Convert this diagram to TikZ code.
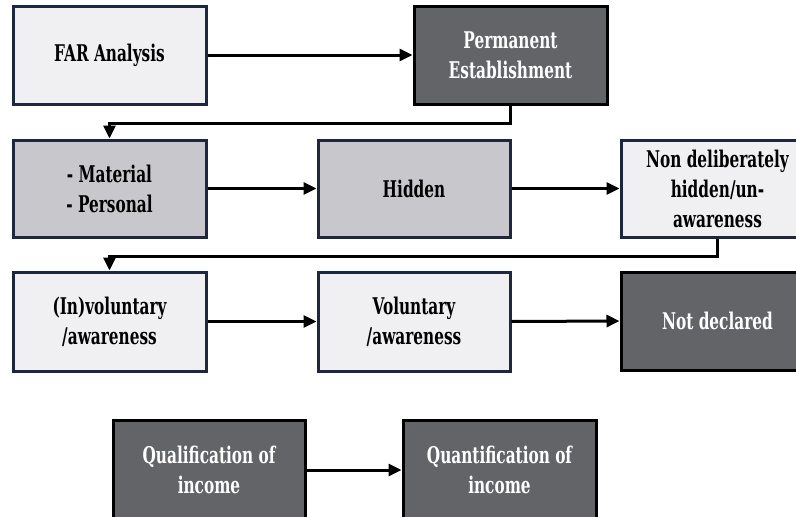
\documentclass[tikz,border=0pt]{standalone}
\usepackage{fontspec}
\setmainfont{DejaVu Serif Condensed}[FakeStretch=0.74]
\usetikzlibrary{arrows.meta,calc}
\definecolor{darkbox}{HTML}{636468}
\definecolor{midbox}{HTML}{C8C8CC}
\definecolor{lightbox}{HTML}{F0F0F3}
\definecolor{navyline}{HTML}{1E2740}
\begin{document}
\begin{tikzpicture}[x=1pt,y=-1pt,
  box/.style={draw, line width=3pt, inner sep=0pt, align=center,
    font=\bfseries\fontsize{23}{30}\selectfont},
  lightstep/.style={box, draw=navyline, fill=lightbox, text=black},
  midstep/.style={box, draw=navyline, fill=midbox, text=black},
  darkstep/.style={box, draw=black, fill=darkbox, text=white},
  conn/.style={line width=3pt, -{Triangle[length=13pt,width=12pt]}},
  elbow/.style={conn}]
\useasboundingbox (0,0) rectangle (796,517);
\clip (0,0) rectangle (796,517);

% row 1
\node[lightstep, minimum width=193pt, minimum height=98pt] (far) at (109.5,55) {FAR Analysis};
\node[darkstep, minimum width=193pt, minimum height=98pt] (pe) at (510.5,55) {Permanent\\Establishment};

% row 2
\node[midstep, minimum width=193pt, minimum height=97pt] (mat) at (109.5,188.5) {- Material\\- Personal};
\node[midstep, minimum width=192pt, minimum height=97pt] (hid) at (414,188.5) {Hidden};
\node[lightstep, minimum width=193pt, minimum height=97pt] (nd) at (717.5,188.5) {Non deliberately\\hidden/un-\\awareness};

% row 3
\node[lightstep, minimum width=193pt, minimum height=99pt] (inv) at (109.5,321.5) {(In)voluntary\\/awareness};
\node[lightstep, minimum width=192pt, minimum height=99pt] (vol) at (414,321.5) {Voluntary\\/awareness};
\node[darkstep, minimum width=193pt, minimum height=98pt] (notd) at (717.5,321) {Not declared};

% row 4
\node[darkstep, minimum width=192pt, minimum height=100pt] (qual) at (209,470) {Qualification of\\income};
\node[darkstep, minimum width=193pt, minimum height=100pt] (quant) at (499.5,470) {Quantification of\\income};

% connectors
\draw[conn] (far.east) -- (pe.west);
\draw[elbow] (pe.south) -- ++(0,18) -| (mat.north);
\draw[conn] (mat.east) -- (hid.west);
\draw[conn] (hid.east) -- (nd.west);
\draw[elbow] (nd.south) -- ++(0,18) -| (inv.north);
\draw[conn] (inv.east) -- (vol.west);
\draw[conn] (vol.east) -- (notd.west);
\draw[conn] (qual.east) -- (quant.west);
\end{tikzpicture}
\end{document}
